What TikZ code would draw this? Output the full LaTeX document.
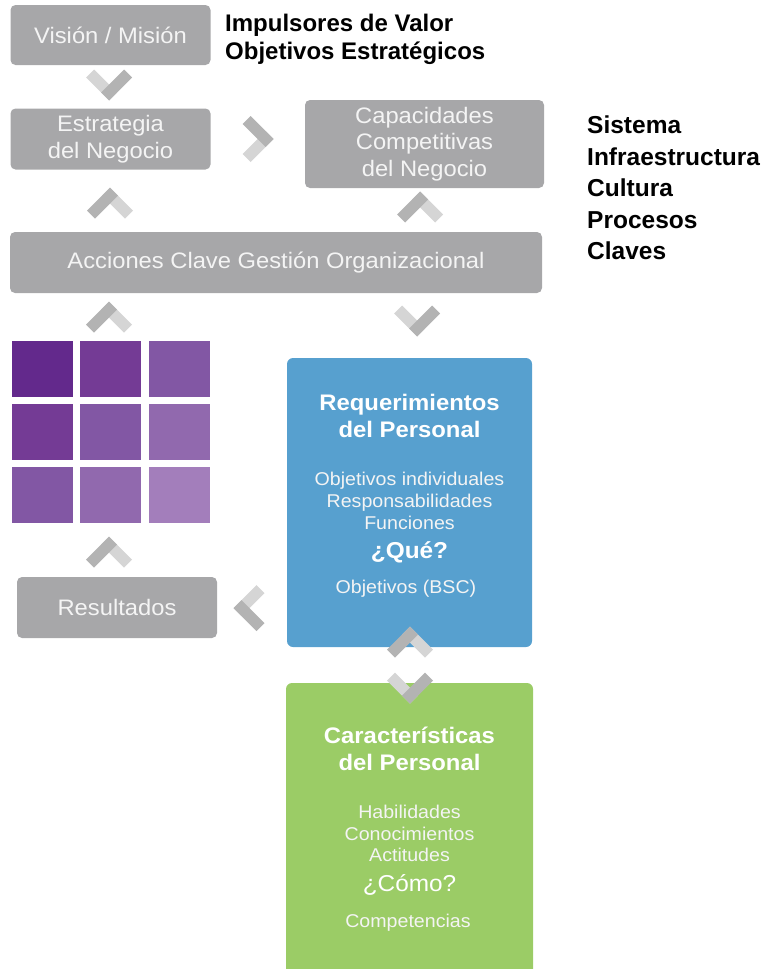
\documentclass[tikz,border=0pt]{standalone}
\usepackage{fontspec}
\setmainfont{Liberation Sans}
\newfontfamily\boxfont{Liberation Sans}[FakeStretch=1.06]
\usetikzlibrary{positioning}

\definecolor{boxgray}{HTML}{A7A7A9}
\definecolor{chevlight}{HTML}{D5D5D5}
\definecolor{chevdark}{HTML}{B3B3B3}
\definecolor{reqblue}{HTML}{57A0CF}
\definecolor{cargreen}{HTML}{9BCC66}
\definecolor{boxtext}{HTML}{F4F4F4}
\definecolor{grid0}{HTML}{63298C}
\definecolor{grid1}{HTML}{743B95}
\definecolor{grid2}{HTML}{8257A4}
\definecolor{grid3}{HTML}{9169AE}
\definecolor{grid4}{HTML}{A37EBB}

\tikzset{
  graybox/.style= {
    rectangle,
    rounded corners = 5pt,
    fill = boxgray,
    text = boxtext,
    align = center,
    inner sep = 0pt,
    font = \boxfont\fontsize{22.4}{26.5}\selectfont
  },
  colorbox/.style= {
    rectangle,
    rounded corners = 6pt,
    fill = #1,
    inner sep = 0pt
  },
  headtext/.style= {
    anchor = base,
    inner sep = 0pt,
    text = white,
    font = \boxfont\bfseries\fontsize{22.5}{27}\selectfont
  },
  listtext/.style= {
    anchor = base,
    inner sep = 0pt,
    text = boxtext,
    font = \boxfont\fontsize{18.5}{22}\selectfont
  },
  asktext/.style= {
    anchor = base,
    inner sep = 0pt,
    text = white,
    font = \boxfont#1\fontsize{23}{27}\selectfont
  },
  labeltext/.style= {
    anchor = base west,
    inner sep = 0pt,
    font = \bfseries\fontsize{24.5}{30}\selectfont
  },
  cell/.style= {
    rectangle,
    minimum width = 61pt,
    minimum height = 56pt,
    inner sep = 0pt
  },
  chev/.pic = {
    \fill[chevlight] (0,15.5) -- (-23,-7.5) -- (-15,-15.5) -- (8,7.5) -- cycle;
    \fill[chevdark] (0,15.5) -- (23,-7.5) -- (15,-15.5) -- (-8,7.5) -- cycle;
  }
}

\begin{document}
\begin{tikzpicture}[x=1pt,y=-1pt]
  \useasboundingbox (0,0) rectangle (778,969);

  % top boxes
  \node[graybox,minimum width=200pt,minimum height=60pt] (vision) at (110.5,35) {Visión / Misión};
  \node[graybox,minimum width=200pt,minimum height=61pt] (estrategia) at (110.5,139) {Estrategia\\del Negocio};
  \node[graybox,minimum width=239pt,minimum height=88pt] (capacidades) at (424.5,144) {Capacidades\\Competitivas\\del Negocio};
  \node[graybox,minimum width=532pt,minimum height=61pt] (acciones) at (276,262.5) {Acciones Clave Gestión Organizacional};

  \node[labeltext,font=\bfseries\fontsize{24}{28}\selectfont] (impulsores) at (225,31) {Impulsores de Valor};
  \node[labeltext,font=\bfseries\fontsize{24}{28}\selectfont] (objetivos) at (225,59) {Objetivos Estratégicos};

  % right labels
  \node[labeltext] (sistema) at (587,133) {Sistema};
  \node[labeltext] (infra) at (587,165) {Infraestructura};
  \node[labeltext] (cultura) at (587,196.5) {Cultura};
  \node[labeltext] (procesos) at (587,228) {Procesos};
  \node[labeltext] (claves) at (587,259) {Claves};

  % purple grid
  \foreach \i in {0,1,2} {
    \foreach \j in {0,1,2} {
      \pgfmathtruncatemacro\k{\i+\j}
      \node[cell,fill=grid\k] (sq\i\j) at ({42+68.5*\i},{369+63*\j}) {};
    }
  }

  \node[graybox,minimum width=200pt,minimum height=61pt] (resultados) at (117,607.5) {Resultados};

  % requerimientos
  \node[colorbox=reqblue,minimum width=245pt,minimum height=289pt] (reqbox) at (409.5,502.5) {};
  \node[headtext] (reqa) at (409.5,410) {Requerimientos};
  \node[headtext] (reqb) at (409.5,437) {del Personal};
  \node[listtext] (reqc) at (409.5,485) {Objetivos individuales};
  \node[listtext] (reqd) at (409.5,507) {Responsabilidades};
  \node[listtext] (reqe) at (409.5,529) {Funciones};
  \node[asktext=\bfseries] (reqf) at (409.5,558) {¿Qué?};
  \node[listtext] (reqg) at (406,593) {Objetivos (BSC)};

  % caracteristicas
  \node[colorbox=cargreen,minimum width=247pt,minimum height=310pt] (carbox) at (409.5,838) {};
  \node[headtext] (cara) at (409.5,743) {Características};
  \node[headtext] (carb) at (409.5,770) {del Personal};
  \node[listtext] (carc) at (409.5,818) {Habilidades};
  \node[listtext] (card) at (409.5,840) {Conocimientos};
  \node[listtext] (care) at (409.5,861) {Actitudes};
  \node[asktext=] (carf) at (409.5,891) {¿Cómo?};
  \node[listtext] (carg) at (408,927) {Competencias};

  % chevrons
  \pic (chvision) at (109,85) {chev};
  \pic[rotate=90] (chestrategia) at (258,139) {chev};
  \pic[rotate=180] (chupleft) at (110,203) {chev};
  \pic[rotate=180] (chupright) at (420,207) {chev};
  \pic[rotate=180] (chgrid) at (109,317) {chev};
  \pic (chreq) at (417,321) {chev};
  \pic[rotate=180] (chresult) at (109,552) {chev};
  \pic[rotate=-90] (chback) at (249,608) {chev};
  \pic[rotate=180] (chreqcar) at (410,642) {chev};
  \pic (chcarreq) at (410,688) {chev};

\end{tikzpicture}
\end{document}
